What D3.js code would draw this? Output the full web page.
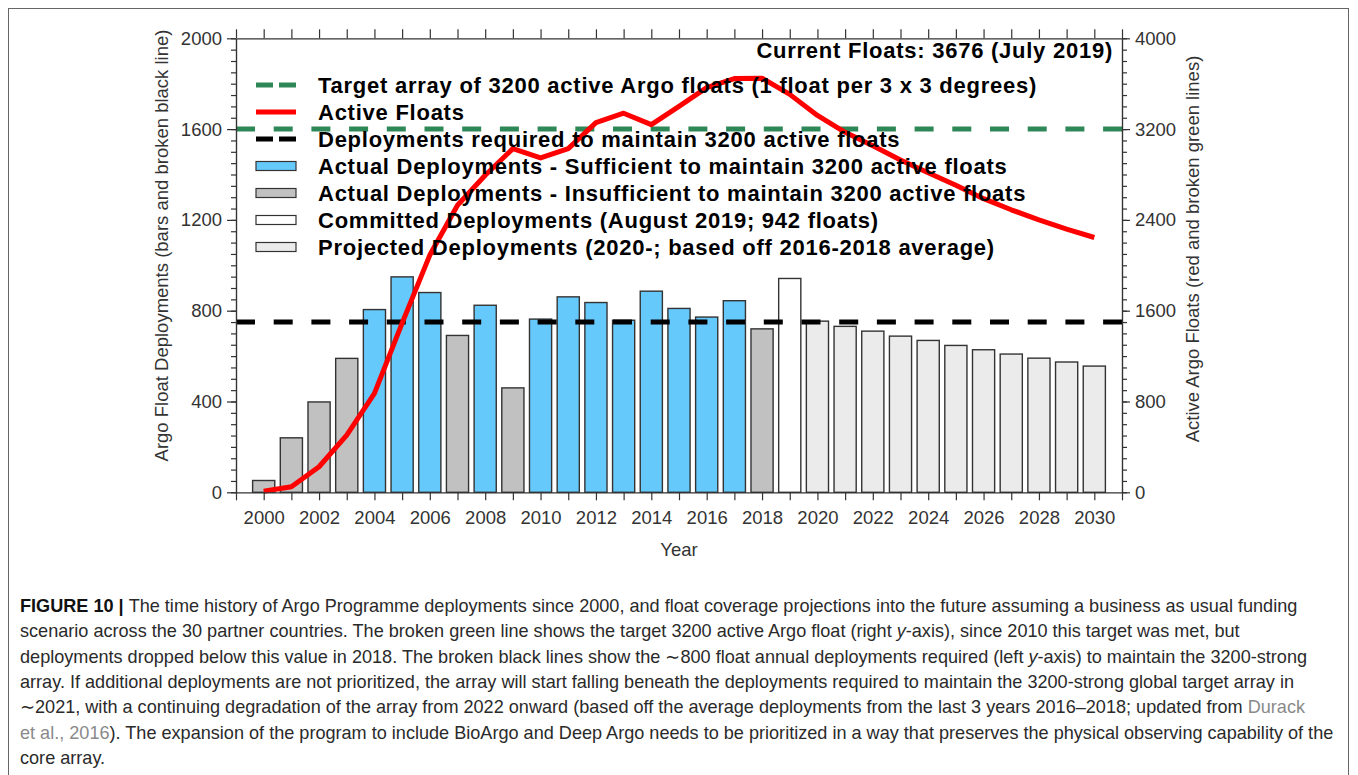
<!DOCTYPE html>
<html><head><meta charset="utf-8">
<script src="https://cdn.jsdelivr.net/npm/d3@7"></script>
<style>
html,body{margin:0;padding:0;background:#fff;}
svg{display:block;}
</style></head>
<body>
<svg id="chart" width="1358" height="775"></svg>
<script>
const years = [2000,2001,2002,2003,2004,2005,2006,2007,2008,2009,2010,2011,2012,2013,2014,2015,2016,2017,2018,2019,2020,2021,2022,2023,2024,2025,2026,2027,2028,2029,2030];
const deployments = [52,240,398,590,805,949,880,691,824,460,763,861,836,758,886,810,772,844,720,942,754,731,710,688,669,647,628,609,591,574,556];
const status = ["insufficient","insufficient","insufficient","insufficient","sufficient","sufficient","sufficient","insufficient","sufficient","insufficient","sufficient","sufficient","sufficient","sufficient","sufficient","sufficient","sufficient","sufficient","insufficient","committed","projected","projected","projected","projected","projected","projected","projected","projected","projected","projected","projected"];
const activeFloats = [10,49,225,504,871,1490,2090,2529,2793,3028,2946,3028,3257,3340,3239,3400,3565,3645,3648,3506,3320,3172,3053,2928,2815,2705,2587,2489,2400,2318,2245];
const targetFloats = 3200;
const requiredDeployments = 750;
const leftTicks = [0,400,800,1200,1600,2000];
const rightTicks = [0,800,1600,2400,3200,4000];
const xLabelYears = [2000,2002,2004,2006,2008,2010,2012,2014,2016,2018,2020,2022,2024,2026,2028,2030];
const legendItems = [
  {key:"target", label:"Target array of 3200 active Argo floats (1 float per 3 x 3 degrees)"},
  {key:"active", label:"Active Floats"},
  {key:"required", label:"Deployments required to maintain 3200 active floats"},
  {key:"sufficient", label:"Actual Deployments - Sufficient to maintain 3200 active floats"},
  {key:"insufficient", label:"Actual Deployments - Insufficient to maintain 3200 active floats"},
  {key:"committed", label:"Committed Deployments (August 2019; 942 floats)"},
  {key:"projected", label:"Projected Deployments (2020-; based off 2016-2018 average)"}
];
const fills = {sufficient:"#66c9fb", insufficient:"#c1c1c1", committed:"#ffffff", projected:"#ebebeb"};
const greenCol = "#2e8757";

const svg = d3.select("#chart");
const FONT = "'Liberation Sans', Arial, Helvetica, sans-serif";

// frame
svg.append("rect").attr("x",8.5).attr("y",8.5).attr("width",1340).attr("height",800)
  .attr("fill","none").attr("stroke","#666").attr("stroke-width",1);

const x = d3.scaleLinear().domain([1999,2031]).range([236,1122]);
const yL = d3.scaleLinear().domain([0,2000]).range([492.3,38.3]);
const yR = d3.scaleLinear().domain([0,4000]).range([492.3,38.3]);
const barW = (x(2000.4)-x(1999.6));

// bars
svg.append("g").selectAll("rect").data(years).join("rect")
  .attr("x",(d)=>x(d-0.4))
  .attr("width",barW)
  .attr("y",(d,i)=>yL(deployments[i]))
  .attr("height",(d,i)=>yL(0)-yL(deployments[i]))
  .attr("fill",(d,i)=>fills[status[i]])
  .attr("stroke","#333").attr("stroke-width",1.4);

// dashed reference lines
svg.append("line").attr("x1",x(1999)).attr("x2",x(2031))
  .attr("y1",yR(targetFloats)).attr("y2",yR(targetFloats))
  .attr("stroke",greenCol).attr("stroke-width",5).attr("stroke-dasharray","19,18.7");
svg.append("line").attr("x1",x(1999)).attr("x2",x(2031))
  .attr("y1",yL(requiredDeployments)).attr("y2",yL(requiredDeployments))
  .attr("stroke","#000").attr("stroke-width",5).attr("stroke-dasharray","19,18.7");

// active floats line
svg.append("path").datum(years)
  .attr("d", d3.line().x(d=>x(d)).y((d,i)=>yR(activeFloats[i])))
  .attr("fill","none").attr("stroke","#ff0000").attr("stroke-width",5).attr("stroke-linejoin","round");

// axes
const axCol = "#333";
function styleAxis(g){
  g.select(".domain").attr("stroke",axCol).attr("stroke-width",1.2);
  g.selectAll(".tick line").attr("stroke",axCol).attr("stroke-width",1.2);
  g.selectAll(".tick text").attr("fill","#333").style("font-family",FONT).style("font-size","18.5px");
}
const allYears = d3.range(1999,2032);
const fmt = d3.format("d");
// bottom
const gB = svg.append("g").attr("transform",`translate(0,${yL(0)})`)
  .call(d3.axisBottom(x).tickValues(allYears).tickSize(8).tickSizeOuter(0)
    .tickFormat(d=> xLabelYears.includes(d) ? fmt(d) : ""));
styleAxis(gB);
gB.selectAll(".tick text").attr("dy","1.12em");
// top
const gT = svg.append("g").attr("transform",`translate(0,${yL(2000)})`)
  .call(d3.axisTop(x).tickValues(allYears).tickSize(9).tickSizeOuter(0).tickFormat(""));
styleAxis(gT);
// left
const gLm = svg.append("g").attr("transform",`translate(${x(1999)},0)`)
  .call(d3.axisLeft(yL).tickValues(d3.range(0,2001,50)).tickSize(5).tickSizeOuter(0).tickFormat(""));
styleAxis(gLm);
const gL = svg.append("g").attr("transform",`translate(${x(1999)},0)`)
  .call(d3.axisLeft(yL).tickValues(leftTicks).tickSize(9).tickSizeOuter(0).tickPadding(5).tickFormat(fmt));
styleAxis(gL);
// right
const gRm = svg.append("g").attr("transform",`translate(${x(2031)},0)`)
  .call(d3.axisRight(yR).tickValues(d3.range(0,4001,100)).tickSize(5).tickSizeOuter(0).tickFormat(""));
styleAxis(gRm);
const gR = svg.append("g").attr("transform",`translate(${x(2031)},0)`)
  .call(d3.axisRight(yR).tickValues(rightTicks).tickSize(8).tickSizeOuter(0).tickPadding(5).tickFormat(fmt));
styleAxis(gR);

// axis titles
svg.append("text").attr("transform","translate(168,245.5) rotate(-90)")
  .attr("text-anchor","middle").attr("fill","#333")
  .style("font-family",FONT).style("font-size","18.5px")
  .text("Argo Float Deployments (bars and broken black line)");
svg.append("text").attr("transform","translate(1199,249) rotate(-90)")
  .attr("text-anchor","middle").attr("fill","#333")
  .style("font-family",FONT).style("font-size","18.5px")
  .text("Active Argo Floats (red and broken green lines)");
svg.append("text").attr("x",679).attr("y",556).attr("text-anchor","middle").attr("fill","#333")
  .style("font-family",FONT).style("font-size","18.5px").text("Year");

// legend
const lg = svg.append("g");
svg.append("text").attr("x",1113).attr("y",58).attr("text-anchor","end")
  .style("font-family",FONT).style("font-size","22px").style("font-weight","bold")
  .style("letter-spacing","0.75px")
  .text("Current Floats: 3676 (July 2019)");
legendItems.forEach((it,i)=>{
  const cy = 85 + i*27;
  if(it.key==="target"||it.key==="required"){
    lg.append("line").attr("x1",256).attr("x2",296).attr("y1",cy).attr("y2",cy)
      .attr("stroke", it.key==="target"?greenCol:"#000").attr("stroke-width",5)
      .attr("stroke-dasharray","17,6");
  } else if(it.key==="active"){
    lg.append("line").attr("x1",256).attr("x2",296).attr("y1",cy).attr("y2",cy)
      .attr("stroke","#ff0000").attr("stroke-width",5);
  } else {
    lg.append("rect").attr("x",256).attr("y",cy-4.5).attr("width",40).attr("height",9)
      .attr("fill",fills[it.key]).attr("stroke","#333").attr("stroke-width",1.2);
  }
  lg.append("text").attr("x",318).attr("y",cy+7.8)
    .style("font-family",FONT).style("font-size","22px").style("font-weight","bold")
    .style("letter-spacing","0.75px")
    .text(it.label);
});

// caption
const capLines = [
  [{t:"FIGURE 10 | ",b:true},{t:"The time history of Argo Programme deployments since 2000, and float coverage projections into the future assuming a business as usual funding"}],
  [{t:"scenario across the 30 partner countries. The broken green line shows the target 3200 active Argo float (right "},{t:"y",i:true},{t:"-axis), since 2010 this target was met, but"}],
  [{t:"deployments dropped below this value in 2018. The broken black lines show the \u223C800 float annual deployments required (left "},{t:"y",i:true},{t:"-axis) to maintain the 3200-strong"}],
  [{t:"array. If additional deployments are not prioritized, the array will start falling beneath the deployments required to maintain the 3200-strong global target array in"}],
  [{t:"\u223C2021, with a continuing degradation of the array from 2022 onward (based off the average deployments from the last 3 years 2016\u20132018; updated from "},{t:"Durack",l:true}],
  [{t:"et al., 2016",l:true},{t:"). The expansion of the program to include BioArgo and Deep Argo needs to be prioritized in a way that preserves the physical observing capability of the"}],
  [{t:"core array."}]
];
const cap = svg.append("g");
capLines.forEach((segs,i)=>{
  const tx = cap.append("text").attr("x",20).attr("y",612 + i*25.3)
    .style("font-family",FONT)
    .style("font-size","18.1px").attr("fill","#2a2a2a");
  segs.forEach(s=>{
    const ts = tx.append("tspan").text(s.t);
    if(s.b) ts.style("font-weight","bold").attr("fill","#111");
    if(s.i) ts.style("font-style","italic");
    if(s.l) ts.attr("fill","#8a8a8a");
  });
});
</script>
</body></html>
